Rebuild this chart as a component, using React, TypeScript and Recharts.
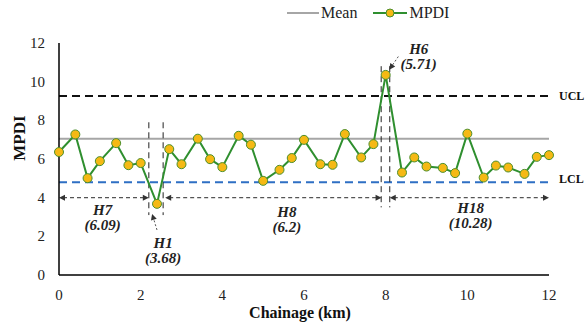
import { LineChart, Line, XAxis, YAxis, ReferenceLine, ReferenceDot } from "recharts";

const chainage = [0, 0.4, 0.7, 1, 1.4, 1.7, 2, 2.4, 2.7, 3, 3.4, 3.7, 4, 4.4, 4.7, 5, 5.4, 5.7, 6, 6.4, 6.7, 7, 7.4, 7.7, 8, 8.4, 8.7, 9, 9.4, 9.7, 10, 10.4, 10.7, 11, 11.4, 11.7, 12];
const mpdi = [6.36, 7.27, 5.01, 5.89, 6.82, 5.68, 5.79, 3.68, 6.51, 5.73, 7.05, 5.99, 5.58, 7.2, 6.74, 4.87, 5.44, 6.05, 6.99, 5.73, 5.7, 7.29, 6.08, 6.77, 10.35, 5.3, 6.08, 5.61, 5.54, 5.27, 7.31, 5.04, 5.66, 5.56, 5.23, 6.11, 6.2];
const xTicks = [0, 2, 4, 6, 8, 10, 12];
const yTicks = [0, 2, 4, 6, 8, 10, 12];

const MEAN = 7.05;
const UCL = 9.26;
const LCL = 4.8;

// section boundaries (km) and their labels
const sections = [
  { name: "H7", value: "(6.09)", from: 0, to: 2.2 },
  { name: "H8", value: "(6.2)", from: 2.6, to: 7.9 },
  { name: "H18", value: "(10.28)", from: 8.1, to: 12 },
];
const hotspots = [
  { name: "H1", value: "(3.68)", left: 2.2, right: 2.55, top: 7.9, bottom: 3.1 },
  { name: "H6", value: "(5.71)", left: 7.89, right: 8.1, top: 10.8, bottom: 3.5 },
];

const data = chainage.map((x, i) => ({ x, mpdi: mpdi[i] }));

const FONT = "Liberation Serif, serif";

function arrowHead(x: number, y: number, ang: number, key: string) {
  const len = 6;
  const w = 3;
  const bx = x - len * Math.cos(ang);
  const by = y - len * Math.sin(ang);
  const px = -Math.sin(ang) * w;
  const py = Math.cos(ang) * w;
  return <polygon key={key} points={`${x},${y} ${bx + px},${by + py} ${bx - px},${by - py}`} fill="#333" />;
}

const DoubleArrow = (p: any) => {
  const { x1, y1, x2, y2 } = p;
  return (
    <g>
      <line x1={x1 + 4} y1={y1} x2={x2 - 4} y2={y2} stroke="#555" strokeWidth={1.2} strokeDasharray="4 3" />
      {arrowHead(x1, y1, Math.PI, "a")}
      {arrowHead(x2, y2, 0, "b")}
    </g>
  );
};

const SingleArrow = (p: any) => {
  const { x1, y1, x2, y2 } = p;
  const ang = Math.atan2(y2 - y1, x2 - x1);
  return (
    <g>
      <line x1={x1} y1={y1} x2={x2 - 4 * Math.cos(ang)} y2={y2 - 4 * Math.sin(ang)} stroke="#555" strokeWidth={1} strokeDasharray="2 2" />
      {arrowHead(x2, y2, ang, "a")}
    </g>
  );
};

const twoLine = (a: string, b: string) => (props: any) => {
  const vb = props.viewBox || {};
  const cx = vb.x + (vb.width || 0) / 2;
  const cy = vb.y + (vb.height || 0) / 2;
  return (
    <text x={cx} textAnchor="middle" fontFamily={FONT} fontSize={15} fontWeight="bold" fontStyle="italic" fill="#222">
      <tspan x={cx} y={cy + 5}>{a}</tspan>
      <tspan x={cx} y={cy + 20}>{b}</tspan>
    </text>
  );
};

const sideLabel = (txt: string, dy: number) => (props: any) => {
  const vb = props.viewBox || {};
  return (
    <text x={vb.x + vb.width + 10} y={vb.y + dy + 4.5} fontFamily={FONT} fontSize={12} fontWeight="bold" fill="#111">
      {txt}
    </text>
  );
};

const XTick = (p: any) => (
  <text x={p.x} y={p.y + 17} textAnchor="middle" fontFamily={FONT} fontSize={15} fill="#222">
    {p.payload.value}
  </text>
);

const YTick = (p: any) => (
  <text x={45} y={p.y + 5} textAnchor="end" fontFamily={FONT} fontSize={15} fill="#222">
    {p.payload.value}
  </text>
);

export default function App() {
  return (
    <div style={{ position: "absolute", left: 0, top: 0, width: 586, height: 324, background: "#fff", fontFamily: FONT }}>
      <div style={{ position: "absolute", top: 4, left: 287, display: "flex", alignItems: "center", fontSize: 16, color: "#222", zIndex: 2 }}>
        <svg width={32} height={10}><line x1={0} y1={5} x2={32} y2={5} stroke="#A6A6A6" strokeWidth={2} /></svg>
        <span style={{ marginLeft: 2, marginRight: 16 }}>Mean</span>
        <svg width={34} height={12}>
          <line x1={0} y1={6} x2={34} y2={6} stroke="#2F8F2F" strokeWidth={2} />
          <circle cx={17} cy={6} r={4} fill="#F5B914" stroke="#4C8F2C" strokeWidth={1} />
        </svg>
        <span style={{ marginLeft: 2 }}>MPDI</span>
      </div>
      <LineChart width={586} height={324} data={data} margin={{ top: 43, right: 37, bottom: 0, left: 0 }} style={{ fontFamily: FONT }}>
        <XAxis
          type="number"
          dataKey="x"
          domain={[0, 12]}
          ticks={xTicks}
          height={49}
          tickLine={false}
          axisLine={{ stroke: "#000", strokeWidth: 1.5 }}
          tick={XTick}
          label={{
            content: (p: any) => (
              <text x={p.viewBox.x + p.viewBox.width / 2 - 4} y={318} textAnchor="middle" fontFamily={FONT} fontSize={16} fontWeight="bold" fill="#111">
                Chainage (km)
              </text>
            ),
          }}
        />
        <YAxis
          type="number"
          domain={[0, 12]}
          ticks={yTicks}
          width={59}
          tickLine={false}
          axisLine={{ stroke: "#000", strokeWidth: 1.5 }}
          tick={YTick}
          label={{
            content: () => (
              <text x={25} y={138} transform="rotate(-90 25 138)" textAnchor="middle" fontFamily={FONT} fontSize={17} fontWeight="bold" fill="#111">
                MPDI
              </text>
            ),
          }}
        />
        <ReferenceLine y={MEAN} stroke="#A6A6A6" strokeWidth={2} />
        <ReferenceLine y={UCL} stroke="#111" strokeWidth={2} strokeDasharray="8 5" label={{ content: sideLabel("UCL", 0) }} />
        <ReferenceLine y={LCL} stroke="#2E6FC4" strokeWidth={2} strokeDasharray="8 5" label={{ content: sideLabel("LCL", -4) }} />
        {hotspots.map((h) => [
          <ReferenceLine key={h.name + "l"} segment={[{ x: h.left, y: h.top }, { x: h.left, y: h.bottom }]} stroke="#222" strokeWidth={1} strokeDasharray="6 4" />,
          <ReferenceLine key={h.name + "r"} segment={[{ x: h.right, y: h.top }, { x: h.right, y: h.bottom }]} stroke="#222" strokeWidth={1} strokeDasharray="6 4" />,
        ])}
        {sections.map((s) => (
          <ReferenceLine key={s.name} segment={[{ x: s.from, y: 4 }, { x: s.to, y: 4 }]} shape={DoubleArrow} />
        ))}
        <ReferenceLine segment={[{ x: 2.4, y: 2.33 }, { x: 2.28, y: 3.16 }]} shape={SingleArrow} />
        <ReferenceLine segment={[{ x: 8.31, y: 11.3 }, { x: 8.09, y: 10.62 }]} shape={SingleArrow} />
        <ReferenceDot x={1.07} y={3.37} r={0} fill="none" stroke="none" label={{ content: twoLine("H7", "(6.09)") }} />
        <ReferenceDot x={5.58} y={3.26} r={0} fill="none" stroke="none" label={{ content: twoLine("H8", "(6.2)") }} />
        <ReferenceDot x={10.08} y={3.47} r={0} fill="none" stroke="none" label={{ content: twoLine("H18", "(10.28)") }} />
        <ReferenceDot x={2.55} y={1.66} r={0} fill="none" stroke="none" label={{ content: twoLine("H1", "(3.68)") }} />
        <ReferenceDot x={8.81} y={11.71} r={0} fill="none" stroke="none" label={{ content: twoLine("H6", "(5.71)") }} />
        <Line
          dataKey="mpdi"
          stroke="#2F8F2F"
          strokeWidth={2}
          dot={{ r: 4.5, fill: "#F5B914", stroke: "#4C8F2C", strokeWidth: 1 }}
          activeDot={false}
          isAnimationActive={false}
        />
      </LineChart>
    </div>
  );
}
